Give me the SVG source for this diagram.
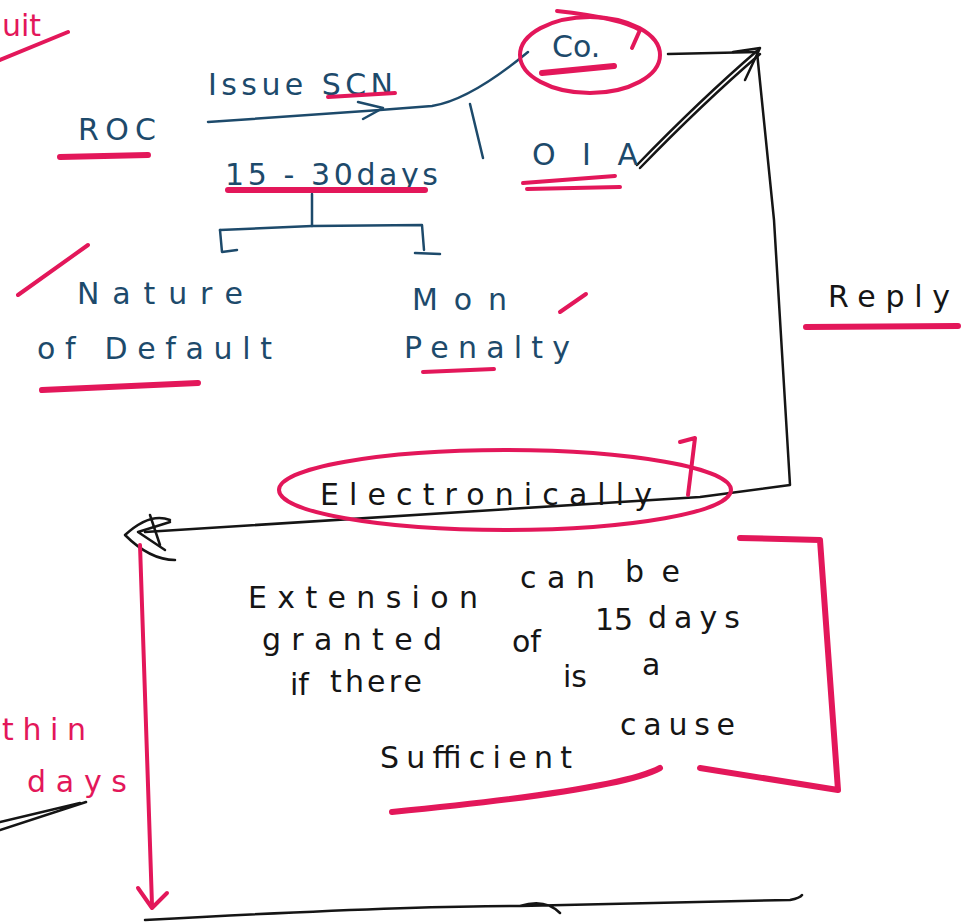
<svg xmlns="http://www.w3.org/2000/svg" width="974" height="923" viewBox="0 0 974 923">
<style>
text{font-family:"DejaVu Sans","Liberation Sans",sans-serif;}
.blue{fill:#1d4a6b;font-size:30px;}
.blk{fill:#151515;font-size:30px;}
.pnkT{fill:#e3175a;font-size:30px;}
.pk{fill:none;stroke:#e3175a;stroke-width:6;stroke-linecap:round;stroke-linejoin:round;}
.pkt{fill:none;stroke:#e3175a;stroke-width:4;stroke-linecap:round;stroke-linejoin:round;}
.bl{fill:none;stroke:#1d4a6b;stroke-width:2.5;stroke-linecap:round;stroke-linejoin:round;}
.bk{fill:none;stroke:#151515;stroke-width:2.5;stroke-linecap:round;stroke-linejoin:round;}
</style>
<rect width="974" height="923" fill="#ffffff"/>

<g id="connectors">
  <path class="bl" d="M208,122 L380,110 L432,106 Q470,100 528,52"/>
  <path class="bl" d="M358,102 L383,108 L363,119"/>
  <path class="bl" d="M470,104 L483,158"/>
  <path class="bl" d="M312,194 L312,226"/>
  <path class="bl" d="M220,230 L312,226 L422,225 L424,250"/>
  <path class="bl" d="M220,230 L222,252 L237,250"/>
  <path class="bl" d="M415,253 L440,254"/>
  <path class="bk" d="M668,54 L758,52"/>
  <path class="bk" d="M637,165 Q700,100 758,50"/>
  <path class="bk" d="M640,168 Q702,104 760,54"/>
  <path class="bk" d="M733,52 L760,48 L745,80"/>
  <path class="bk" d="M757,52 L774,220 L790,485 L700,497 L145,532"/>
  <path class="bk" d="M170,522 L138,532 L165,550"/>
  <path class="bk" d="M125,535 Q150,512 170,520 M125,535 Q150,560 175,560 M150,515 L160,545"/>
  <path class="pkt" d="M140,545 L152,905"/>
  <path class="pkt" d="M138,888 L152,908 L167,893"/>
  <path class="bk" d="M145,920 Q400,906 520,906 Q545,898 560,913 M520,906 L790,900 Q800,898 802,895"/>
</g>

<g id="node-uit">
  <text x="2" y="36" class="pnkT" font-size="24">uit</text>
  <path class="pkt" d="M0,60 L68,32"/>
</g>

<g id="node-roc">
  <text x="78" y="140" class="blue" font-size="34" textLength="78" lengthAdjust="spacing">ROC</text>
  <path class="pk" d="M60,157 L148,155"/>
</g>

<g id="node-issue">
  <text x="208" y="95" class="blue" font-size="27" textLength="185" lengthAdjust="spacing">Issue SCN</text>
  <path class="pkt" d="M328,97 L395,93"/>
</g>

<g id="node-days">
  <text x="225" y="185" class="blue" font-size="31" textLength="213" lengthAdjust="spacing">15 - 30days</text>
  <path class="pk" d="M228,190 L425,190"/>
</g>

<g id="node-co">
  <ellipse class="pkt" cx="590" cy="55" rx="70" ry="38"/>
  <path class="pkt" d="M557,11 Q620,18 640,30 L632,48"/>
  <text x="552" y="57" class="blue" font-size="30">Co.</text>
  <path class="pk" d="M542,73 L614,66"/>
</g>

<g id="node-oia">
  <text x="532" y="165" class="blue" font-size="30" textLength="106" lengthAdjust="spacing">OIA</text>
  <path class="pkt" d="M523,183 L615,176 M527,189 L620,187"/>
</g>

<g id="node-nature">
  <path class="pkt" d="M18,295 L88,245"/>
  <text x="77" y="304" class="blue" font-size="34" textLength="166" lengthAdjust="spacing">Nature</text>
  <text x="37" y="359" class="blue" font-size="34" textLength="235" lengthAdjust="spacing">of Default</text>
  <path class="pk" d="M42,390 L198,383"/>
</g>

<g id="node-penalty">
  <text x="412" y="310" class="blue" font-size="30" textLength="95" lengthAdjust="spacing">Mon</text>
  <text x="404" y="358" class="blue" font-size="32" textLength="166" lengthAdjust="spacing">Penalty</text>
  <path class="pkt" d="M560,312 L586,294"/>
  <path class="pkt" d="M423,372 L494,369"/>
</g>

<g id="node-reply">
  <text x="828" y="307" class="blk" font-size="36" textLength="122" lengthAdjust="spacing">Reply</text>
  <path class="pk" d="M806,327 L958,326"/>
</g>

<g id="node-electronically">
  <ellipse class="pkt" cx="505" cy="490" rx="226" ry="40"/>
  <path class="pkt" d="M680,442 L695,438 L688,495"/>
  <text x="320" y="505" class="blk" font-size="33" textLength="332" lengthAdjust="spacing">Electronically</text>
</g>

<g id="node-extension">
  <text x="248" y="608" class="blk" font-size="38" textLength="230" lengthAdjust="spacing">Extension</text>
  <text x="520" y="588" class="blk" font-size="34" textLength="75" lengthAdjust="spacing">can</text>
  <text x="625" y="582" class="blk" font-size="34" textLength="55" lengthAdjust="spacing">be</text>
  <text x="262" y="650" class="blk" font-size="38" textLength="180" lengthAdjust="spacing">granted</text>
  <text x="512" y="652" class="blk" font-size="34">of</text>
  <text x="595" y="630" class="blk" font-size="30">15</text>
  <text x="648" y="628" class="blk" font-size="36" textLength="92" lengthAdjust="spacing">days</text>
  <text x="290" y="695" class="blk" font-size="30">if</text>
  <text x="330" y="692" class="blk" font-size="32" textLength="92" lengthAdjust="spacing">there</text>
  <text x="563" y="687" class="blk" font-size="24">is</text>
  <text x="642" y="675" class="blk" font-size="28">a</text>
  <text x="380" y="768" class="blk" font-size="36" textLength="192" lengthAdjust="spacing">Sufficient</text>
  <text x="620" y="735" class="blk" font-size="32" textLength="115" lengthAdjust="spacing">cause</text>
  <path class="pk" d="M740,538 L820,540 L838,790 L700,768"/>
  <path class="pk" d="M392,812 Q620,790 660,768"/>
</g>

<g id="node-within">
  <text x="2" y="740" class="pnkT" font-size="36" textLength="84" lengthAdjust="spacing">thin</text>
  <text x="27" y="792" class="pnkT" font-size="34" textLength="100" lengthAdjust="spacing">days</text>
  <path class="bk" stroke-width="5" d="M0,830 L86,802 M0,822 L80,803"/>
</g>
</svg>
